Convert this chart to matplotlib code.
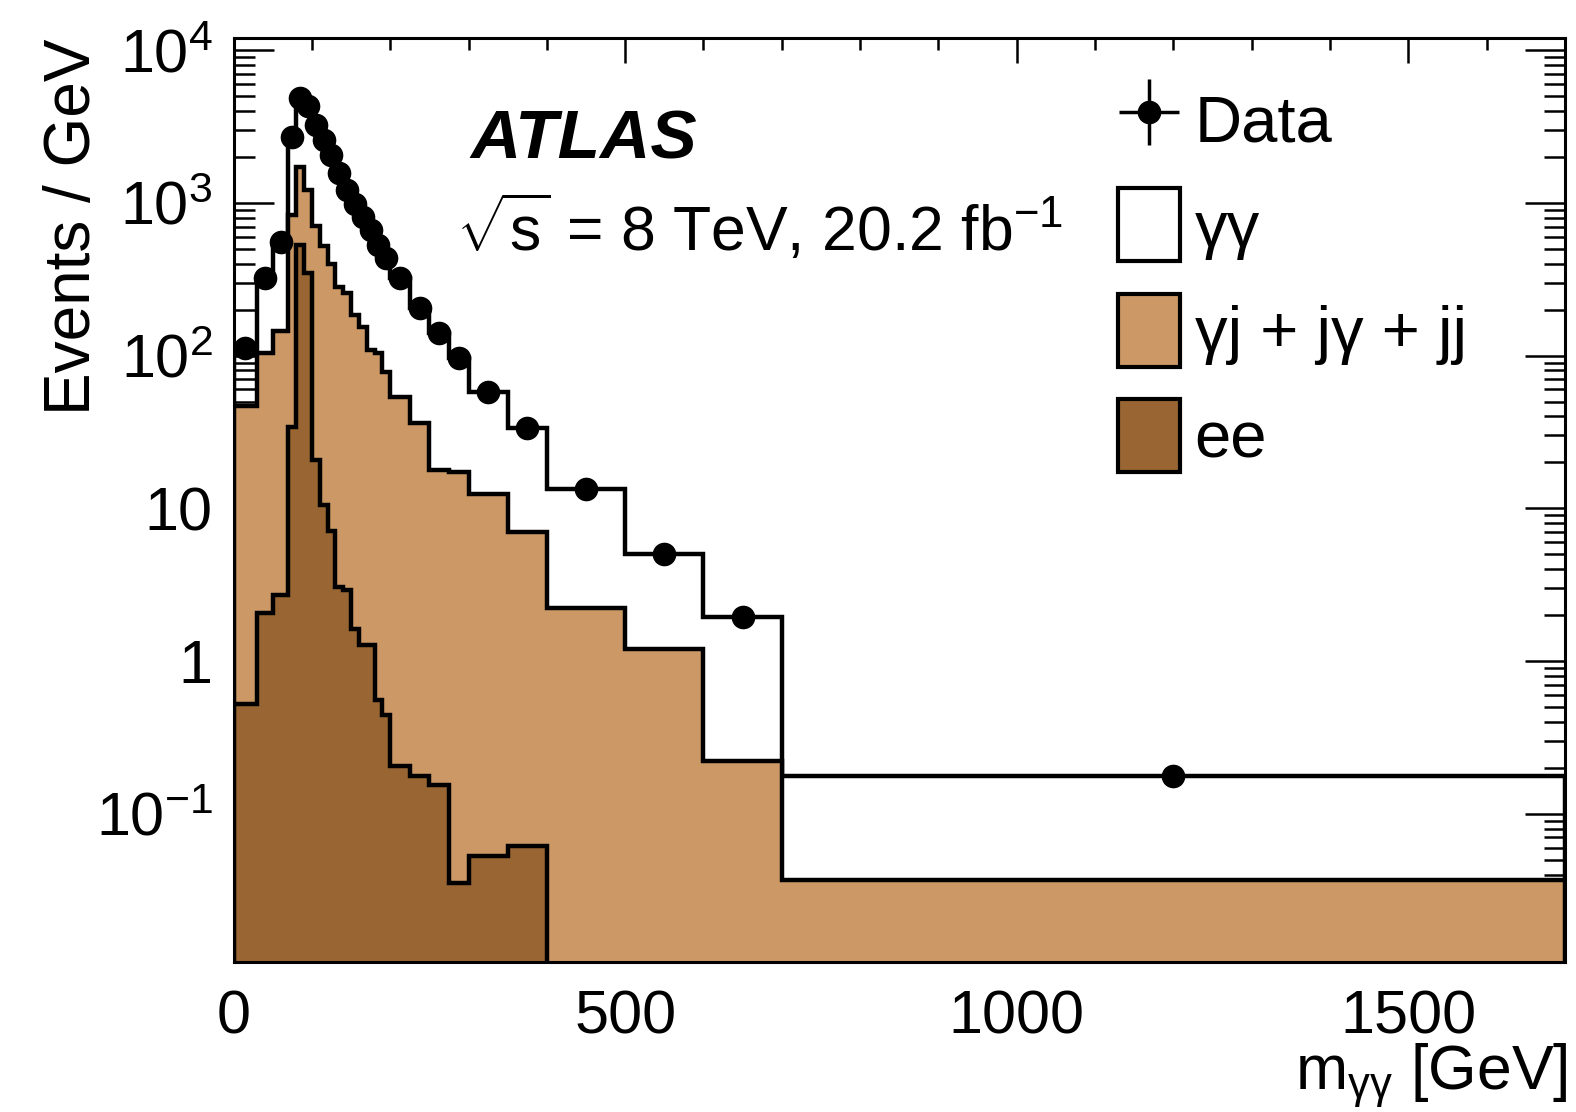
import numpy as np
import matplotlib
matplotlib.use("Agg")
import matplotlib.pyplot as plt
from matplotlib.patches import Patch
from matplotlib.ticker import LogLocator, MultipleLocator, FuncFormatter, NullFormatter
from matplotlib.legend_handler import HandlerErrorbar
from matplotlib.container import ErrorbarContainer

plt.rcParams["font.family"] = ["Liberation Sans", "DejaVu Sans"]
plt.rcParams["mathtext.fontset"] = "custom"
plt.rcParams["mathtext.rm"] = "Liberation Sans"
plt.rcParams["mathtext.it"] = "Liberation Sans:italic"
plt.rcParams["mathtext.bf"] = "Liberation Sans:bold"
plt.rcParams["mathtext.default"] = "regular"

# Bin edges of m_gg [GeV]
edges = np.array([0, 30, 50, 70, 80, 90, 100, 110, 120, 130, 140, 150, 160, 170,
                  180, 190, 200, 225, 250, 275, 300, 350, 400, 500, 600, 700, 1700])

# Events / GeV
data = np.array([112, 321, 552, 2690, 4840, 4310, 3240, 2580, 2060, 1560, 1210,
                 990, 810, 665, 530, 434, 321, 204, 140, 96, 58, 33.4, 13.3,
                 5.0, 1.95, 0.177])

# stacked heights: total (gg + jets + ee), jets + ee, ee
stack_total = np.array([104, 321, 552, 2690, 4840, 4310, 3240, 2580, 2060, 1560,
                        1210, 990, 810, 665, 530, 434, 321, 204, 140, 96, 58,
                        33.4, 13.3, 5.0, 1.95, 0.177])
stack_jets_ee = np.array([47, 104, 145, 833, 1720, 1220, 705, 520, 395, 282, 256,
                          184, 154, 109, 104, 78.5, 53.5, 36.2, 17.8, 17.3, 12.4,
                          7.0, 2.21, 1.20, 0.22, 0.037])
# ee only up to 400 GeV
stack_ee = np.array([0.52, 2.05, 2.71, 34, 530, 347, 20.7, 10.5, 7.1, 3.05, 2.92,
                     1.63, 1.27, 1.27, 0.556, 0.443, 0.204, 0.176, 0.155, 0.0354,
                     0.053, 0.0612])

labels = ["Data", "γγ", "γj + jγ + jj", "ee"]
TAN = "#CC9966"
BROWN = "#996633"

centers = 0.5 * (edges[:-1] + edges[1:])
widths = np.diff(edges)
data_err = np.sqrt(data * widths) / widths

fig = plt.figure(figsize=(15.76, 11.12), dpi=100)
ax = fig.add_axes([0.1482, 0.1349, 0.8448, 0.8309])

lw = 3.2
base = 1e-4
ax.stairs(stack_total, edges, fill=True, facecolor="white", edgecolor="black",
          linewidth=lw, baseline=base, zorder=1)
ax.stairs(stack_jets_ee, edges, fill=True, facecolor=TAN, edgecolor="black",
          linewidth=lw, baseline=base, zorder=2)
ax.stairs(stack_ee, edges[:len(stack_ee) + 1], fill=True, facecolor=BROWN,
          edgecolor="black", linewidth=lw, baseline=base, zorder=3)

ax.errorbar(centers, data, yerr=data_err, fmt="o", color="black", ms=16,
            elinewidth=2.5, capsize=0, zorder=5)
# proxy for the legend (marker with both bars)
data_proxy = ax.errorbar([np.nan], [np.nan], xerr=[1], yerr=[1], fmt="o",
                         color="black", ms=16, elinewidth=2.5, capsize=0)

ax.set_yscale("log")
ax.set_xlim(0, 1700)
ax.set_ylim(0.0107, 1.2e4)

ax.xaxis.set_major_locator(MultipleLocator(500))
ax.xaxis.set_minor_locator(MultipleLocator(100))
ax.yaxis.set_major_locator(LogLocator(base=10, numticks=20))
ax.yaxis.set_minor_locator(LogLocator(base=10, subs=np.arange(2, 10), numticks=20))
ax.yaxis.set_minor_formatter(NullFormatter())


def ylab(v, pos):
    e = int(round(np.log10(v)))
    if e == 0:
        return "1"
    if e == 1:
        return "10"
    return r"$10^{%d}$" % e


ax.yaxis.set_major_formatter(FuncFormatter(ylab))

ax.tick_params(which="both", direction="in", top=True, right=True, width=1.8,
               labelsize=44)
ax.tick_params(axis="y", which="major", length=29, pad=15)
ax.tick_params(axis="y", which="minor", length=15)
ax.tick_params(axis="x", which="major", length=18, pad=20)
ax.tick_params(axis="x", which="minor", length=8.6)
for s in ax.spines.values():
    s.set_linewidth(2.2)
    s.set_zorder(10)

ax.set_ylabel("Events / GeV", fontsize=46, loc="top")
ax.yaxis.set_label_coords(-0.098, 1.0)
ax.set_xlabel(r"m$_{γγ}$ [GeV]", fontsize=45, loc="right")
ax.xaxis.set_label_coords(1.002, -0.086)

ax.text(0.1776, 0.870, "ATLAS", transform=ax.transAxes, fontsize=50,
        fontweight="bold", fontstyle="italic", va="baseline")
ax.text(0.167, 0.769, r"$\sqrt{s}$ = 8 TeV, 20.2 fb$^{-1}$",
        transform=ax.transAxes, fontsize=45, va="baseline")

handles = [data_proxy,
           Patch(facecolor="white", edgecolor="black", linewidth=3),
           Patch(facecolor=TAN, edgecolor="black", linewidth=3),
           Patch(facecolor=BROWN, edgecolor="black", linewidth=3)]
ax.legend(handles, labels, loc="upper left", bbox_to_anchor=(0.6645, 0.9515),
          frameon=False, fontsize=47, borderpad=0, borderaxespad=0,
          handlelength=0.95, handleheight=1.34, handletextpad=0.22,
          labelspacing=0.5,
          handler_map={ErrorbarContainer: HandlerErrorbar(xerr_size=0.46,
                                                          yerr_size=0.5)})

fig.savefig("out.png", dpi=100)
